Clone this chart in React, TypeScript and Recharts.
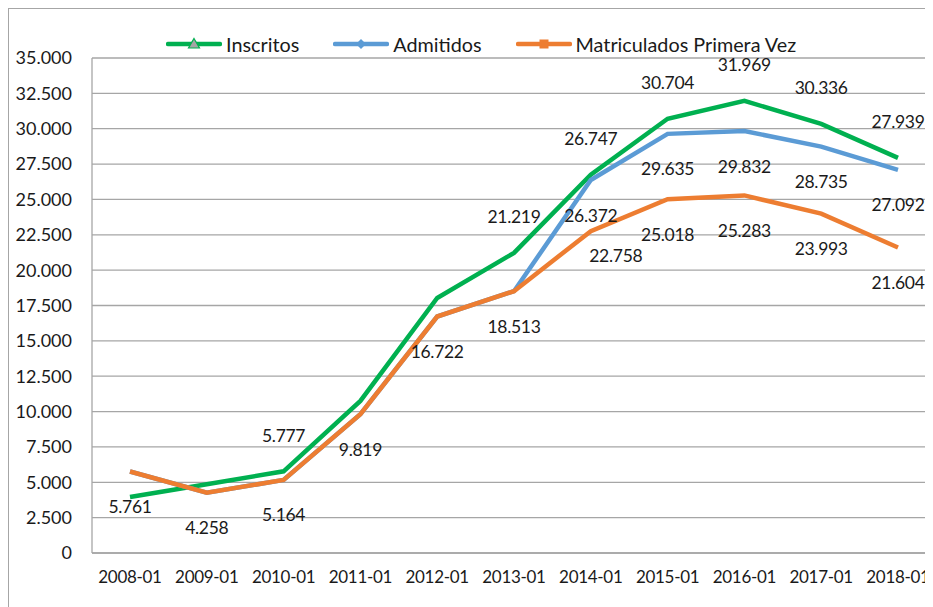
import React from 'react';
import { LineChart, Line, XAxis, YAxis, CartesianGrid, LabelList } from 'recharts';

const categories = [
  '2008-01', '2009-01', '2010-01', '2011-01', '2012-01', '2013-01',
  '2014-01', '2015-01', '2016-01', '2017-01', '2018-01',
];
const inscritos = [3960, 4860, 5777, 10750, 18030, 21219, 26747, 30704, 31969, 30336, 27939];
const admitidos = [5761, 4258, 5164, 9819, 16722, 18513, 26372, 29635, 29832, 28735, 27092];
const matriculados = [5761, 4258, 5164, 9819, 16722, 18513, 22758, 25018, 25283, 23993, 21604];
const yTicks = [0, 2500, 5000, 7500, 10000, 12500, 15000, 17500, 20000, 22500, 25000, 27500, 30000, 32500, 35000];

const FONT = 'Lato, "Open Sans", sans-serif';
const GREEN = '#00b050';
const BLUE = '#5b9bd5';
const ORANGE = '#ed7d31';
const GRID = '#a6a6a6';
const TEXT = '#1a1a1a';

const data = categories.map((name, i) => ({
  name,
  inscritos: inscritos[i],
  admitidos: admitidos[i],
  matriculados: matriculados[i],
}));

const fmt = (v: number) => String(Math.round(v)).replace(/\B(?=(\d{3})+(?!\d))/g, '.');

// which points carry a value label, and where it sits relative to the point
const makeLabel =
  (series: number[], shown: number[], dy: number, nudges: Record<number, [number, number]> = {}) =>
  (props: any) => {
    const { x, y, value } = props;
    const i = typeof props.index === 'number' ? props.index : series.indexOf(value);
    if (!shown.includes(i)) return null;
    const [nx, ny] = nudges[i] ?? [0, 0];
    return (
      <text
        key={`l-${i}`}
        x={x + nx}
        y={y + dy + ny}
        textAnchor="middle"
        dominantBaseline="central"
        fontSize={17.5}
        letterSpacing={-0.3}
        fontFamily={FONT}
        fill={TEXT}
      >
        {fmt(value)}
      </text>
    );
  };

const legendItems = [
  { name: 'Inscritos', color: GREEN, marker: 'triangle' },
  { name: 'Admitidos', color: BLUE, marker: 'diamond' },
  { name: 'Matriculados Primera Vez', color: ORANGE, marker: 'square' },
];

const LegendIcon = ({ color, marker }: { color: string; marker: string }) => (
  <svg width={56} height={14} style={{ display: 'block' }}>
    <line x1={2} y1={7} x2={54} y2={7} stroke={color} strokeWidth={4.5} strokeLinecap="round" />
    {marker === 'triangle' && (
      <polygon points="28,1.5 33.5,11 22.5,11" fill="#a5a5a5" stroke={color} strokeWidth={1.2} />
    )}
    {marker === 'diamond' && <polygon points="28,2 33,7 28,12 23,7" fill={color} />}
    {marker === 'square' && <rect x={23.5} y={2.5} width={9} height={9} fill={color} />}
  </svg>
);

export default function App() {
  return (
    <div
      style={{
        position: 'relative',
        width: 924,
        height: 599,
        overflow: 'hidden',
        borderLeft: '1px solid #a6a6a6',
        borderTop: '1px solid #a6a6a6',
        background: '#fff',
        fontFamily: FONT,
      }}
    >
      <div
        style={{
          position: 'absolute',
          left: 157,
          top: 23,
          display: 'flex',
          alignItems: 'center',
          gap: 34,
          fontSize: 19.8,
          color: TEXT,
          whiteSpace: 'nowrap',
        }}
      >
        {legendItems.map((it) => (
          <div key={it.name} style={{ display: 'flex', alignItems: 'center', gap: 4 }}>
            <LegendIcon color={it.color} marker={it.marker} />
            <span>{it.name}</span>
          </div>
        ))}
      </div>
      <LineChart
        width={927}
        height={598}
        data={data}
        margin={{ top: 49, right: 0, bottom: 24, left: 0 }}
      >
        <CartesianGrid vertical={false} stroke={GRID} strokeWidth={1.3} />
        <XAxis
          dataKey="name"
          height={30}
          padding={{ left: 38, right: 38 }}
          stroke={GRID}
          strokeWidth={1.3}
          tickLine={false}
          tickSize={6}
          tickMargin={12}
          tick={{ fontSize: 17, fontFamily: FONT, fill: TEXT, letterSpacing: -0.3 }}
          interval={0}
        />
        <YAxis
          width={83}
          domain={[0, 35000]}
          ticks={yTicks}
          tickFormatter={fmt}
          stroke={GRID}
          strokeWidth={1.3}
          tickLine={false}
          tickSize={6}
          tickMargin={14}
          tick={{ fontSize: 18, fontFamily: FONT, fill: TEXT }}
          interval={0}
        />
        <Line
          dataKey="inscritos"
          name="Inscritos"
          type="linear"
          stroke={GREEN}
          strokeWidth={4.5}
          dot={false}
          activeDot={false}
          isAnimationActive={false}
        >
          <LabelList dataKey="inscritos" content={makeLabel(inscritos, [2, 5, 6, 7, 8, 9, 10], -36)} />
        </Line>
        <Line
          dataKey="admitidos"
          name="Admitidos"
          type="linear"
          stroke={BLUE}
          strokeWidth={4.5}
          dot={false}
          activeDot={false}
          isAnimationActive={false}
        >
          <LabelList dataKey="admitidos" content={makeLabel(admitidos, [6, 7, 8, 9, 10], 35)} />
        </Line>
        <Line
          dataKey="matriculados"
          name="Matriculados Primera Vez"
          type="linear"
          stroke={ORANGE}
          strokeWidth={4.5}
          dot={false}
          activeDot={false}
          isAnimationActive={false}
        >
          <LabelList
            dataKey="matriculados"
            content={makeLabel(matriculados, [0, 1, 2, 3, 4, 5, 6, 7, 8, 9, 10], 35, { 6: [25, -11] })}
          />
        </Line>
      </LineChart>
    </div>
  );
}
